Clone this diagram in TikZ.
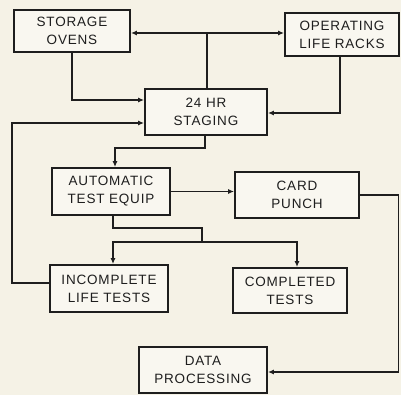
\documentclass[tikz,border=0pt]{standalone}
\usepackage{fontspec}
\setmainfont{Liberation Sans}[LetterSpace=6]
\usetikzlibrary{arrows.meta}
\definecolor{paper}{HTML}{F5F2E6}
\definecolor{ink}{HTML}{1E1E1E}
\begin{document}
\begin{tikzpicture}[x=1pt,y=-1pt,
  blk/.style={draw=ink,line width=1.9pt,fill=paper!60!white,align=center,inner sep=0pt,
    font=\fontsize{13.5}{18}\selectfont,text=ink},
  conn/.style={draw=ink,line width=1.7pt},
  arr/.style={conn,-{Latex[length=6pt,width=5pt]}}]
\fill[paper] (0,0) rectangle (401,395);
\useasboundingbox (0,0) rectangle (401,395);
\node[blk,minimum width=116pt,minimum height=42pt] (storage) at (72,31) {STORAGE\\OVENS};
\node[blk,minimum width=114pt,minimum height=43pt] (operating) at (342,34.5) {OPERATING\\LIFE RACKS};
\node[blk,minimum width=122pt,minimum height=46pt] (staging) at (206,112) {24 HR\\STAGING};
\node[blk,minimum width=118pt,minimum height=47pt] (auto) at (111,191.5) {AUTOMATIC\\TEST EQUIP};
\node[blk,minimum width=124pt,minimum height=46pt] (card) at (297,195) {CARD\\PUNCH};
\node[blk,minimum width=118pt,minimum height=47pt] (incomplete) at (109,288.5) {INCOMPLETE\\LIFE TESTS};
\node[blk,minimum width=114pt,minimum height=45pt] (completed) at (290,290.5) {COMPLETED\\TESTS};
\node[blk,minimum width=128pt,minimum height=46pt] (data) at (203,370) {DATA\\PROCESSING};
\coordinate (j1) at (207,33);
\coordinate (split) at (202,228);
\coordinate (bus) at (202,242);
\coordinate (rt) at (398.5,372);
\coordinate (lft) at (12,123);
% top link
\draw[conn,{Latex[length=6pt,width=5pt]}-{Latex[length=6pt,width=5pt]}] (storage.east |- j1) -- (operating.west |- j1);
\draw[conn] (j1) -- (j1 |- staging.north);
% storage to staging
\draw[arr] (storage.south) |- ([yshift=12pt]staging.west);
% operating to staging
\draw[arr] ([xshift=-2pt]operating.south) |- ([yshift=-1pt]staging.east);
% staging to automatic
\draw[arr] ([xshift=-1pt]staging.south) -- ++(0,12) -| ([xshift=4pt]auto.north);
% automatic to card punch
\draw[arr] (auto.east) -- (auto.east -| card.west);
% card punch to data processing
\draw[arr] (card.east) -- (card.east -| rt) -- (rt) -- (rt -| data.east);
% automatic to results
\draw[conn] ([xshift=2pt]auto.south) |- (split) -- (bus);
\draw[arr] (bus) -| ([xshift=4pt]incomplete.north);
\draw[arr] (bus) -| ([xshift=7pt]completed.north);
% incomplete back to staging
\draw[arr] ([yshift=5.5pt]incomplete.west) -| (lft) -- (lft -| staging.west);
\end{tikzpicture}
\end{document}
